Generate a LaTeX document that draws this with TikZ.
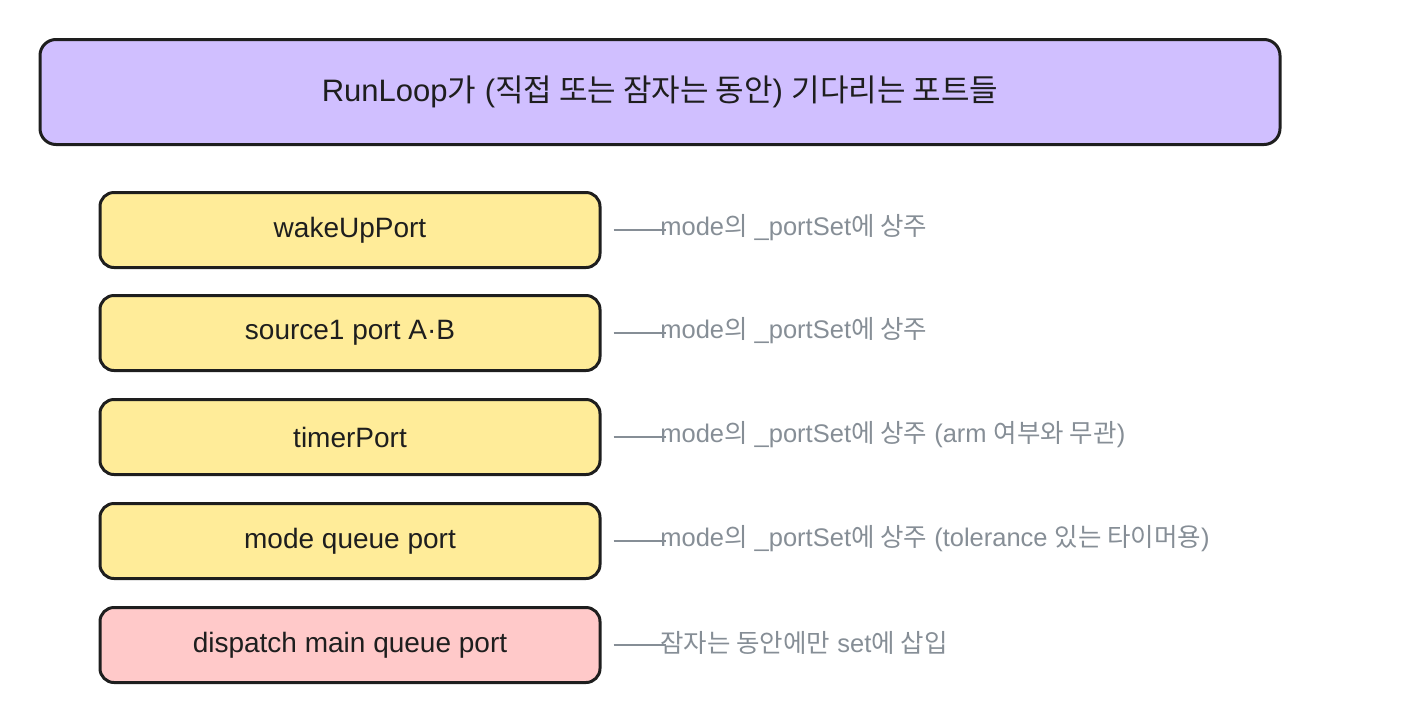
\documentclass[tikz,border=0pt]{standalone}
\usepackage{fontspec}
\setmainfont{Liberation Sans}
\newfontfamily\krfont{Noto Sans CJK KR}
\newcommand{\hg}[1]{{\krfont #1}}
\usepackage{tikz}
\usetikzlibrary{positioning}
\definecolor{titlefill}{HTML}{D0BFFF}
\definecolor{portfill}{HTML}{FFEC99}
\definecolor{sleepfill}{HTML}{FFC9C9}
\definecolor{inkline}{HTML}{1E1E1E}
\definecolor{notegray}{HTML}{868E96}
\tikzset{every picture/.style={line width=0.75pt}}
\tikzset{
  titlebox/.style={draw=inkline, line width=3pt, rounded corners=16pt, fill=titlefill,
    minimum width=1240pt, minimum height=105pt, font=\fontsize{31}{36}\selectfont, text=inkline},
  portbox/.style={draw=inkline, line width=3pt, rounded corners=14pt, fill=portfill,
    minimum width=500pt, minimum height=75pt, font=\fontsize{28}{32}\selectfont, text=inkline},
  sleepbox/.style={portbox, fill=sleepfill},
  note/.style={anchor=west, inner sep=0pt, text=notegray, font=\fontsize{25.5}{30}\selectfont},
  tie/.style={draw=notegray, line width=2pt}
}

\begin{document}
\begin{tikzpicture}[x=1pt,y=1pt,yscale=-1,xscale=1]
    \useasboundingbox (0,0) rectangle (1411,724);
    \node[titlebox] (title) at (660,92) {RunLoop\hg{가} (\hg{직접 또는 잠자는 동안}) \hg{기다리는 포트들}};
    \node[portbox] (wake) at (350,230) {wakeUpPort};
    \node[portbox] (src) at (350,333) {source1 port A·B};
    \node[portbox] (timer) at (350,437) {timerPort};
    \node[portbox] (queue) at (350,541) {mode queue port};
    \node[sleepbox] (dispatch) at (350,645) {dispatch main queue port};
    \node[note] (wakenote) at (660,228) {mode\hg{의} \_portSet\hg{에 상주}};
    \node[note] (srcnote) at (660,331) {mode\hg{의} \_portSet\hg{에 상주}};
    \node[note] (timernote) at (660,435) {mode\hg{의} \_portSet\hg{에 상주} (arm \hg{여부와 무관})};
    \node[note] (queuenote) at (660,539) {mode\hg{의} \_portSet\hg{에 상주} (tolerance \hg{있는 타이머용})};
    \node[note] (dispatchnote) at (660,643) {\hg{잠자는 동안에만} set\hg{에 삽입}};
    \draw[tie] ([xshift=12pt]wake.east) -- ([xshift=6pt,yshift=2pt]wakenote.west);
    \draw[tie] ([xshift=12pt]src.east) -- ([xshift=6pt,yshift=2pt]srcnote.west);
    \draw[tie] ([xshift=12pt]timer.east) -- ([xshift=6pt,yshift=2pt]timernote.west);
    \draw[tie] ([xshift=12pt]queue.east) -- ([xshift=6pt,yshift=2pt]queuenote.west);
    \draw[tie] ([xshift=12pt]dispatch.east) -- ([xshift=6pt,yshift=2pt]dispatchnote.west);
\end{tikzpicture}
\end{document}
